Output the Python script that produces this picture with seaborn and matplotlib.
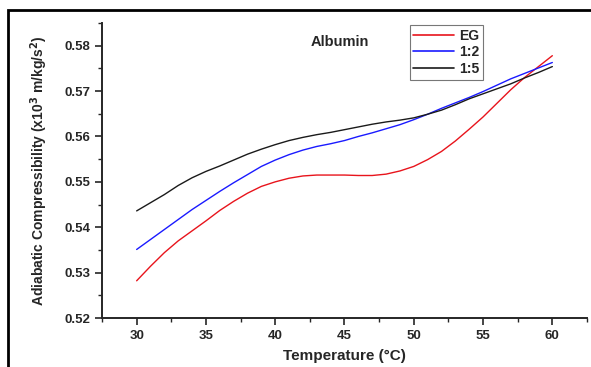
import pandas as pd
import seaborn as sns
import matplotlib.pyplot as plt
from matplotlib.patches import Rectangle
from matplotlib.ticker import MultipleLocator, FormatStrFormatter

# values (one per degree)
temperature = list(range(30, 61))
eg = [0.5282, 0.5314, 0.5344, 0.5370, 0.5392, 0.5414, 0.5437, 0.5457,
      0.5475, 0.5490, 0.5500, 0.5508, 0.5513, 0.5515, 0.5515, 0.5515,
      0.5514, 0.5514, 0.5517, 0.5524, 0.5534, 0.5549, 0.5567, 0.5590,
      0.5616, 0.5643, 0.5673, 0.5703, 0.5730, 0.5754, 0.5778]
ratio_1_2 = [0.5351, 0.5373, 0.5395, 0.5417, 0.5439, 0.5459, 0.5479, 0.5498,
             0.5516, 0.5534, 0.5548, 0.5560, 0.5570, 0.5578, 0.5584, 0.5591,
             0.5600, 0.5608, 0.5617, 0.5626, 0.5637, 0.5649, 0.5662, 0.5674,
             0.5686, 0.5699, 0.5713, 0.5727, 0.5739, 0.5751, 0.5763]
ratio_1_5 = [0.5436, 0.5454, 0.5472, 0.5492, 0.5509, 0.5523, 0.5535, 0.5548,
             0.5561, 0.5572, 0.5582, 0.5591, 0.5598, 0.5604, 0.5609, 0.5615,
             0.5621, 0.5627, 0.5632, 0.5636, 0.5641, 0.5649, 0.5658, 0.5670,
             0.5683, 0.5694, 0.5705, 0.5716, 0.5729, 0.5741, 0.5754]
series = ["EG", "1:2", "1:5"]
colors = ["#e8141c", "#1a1aff", "#1a1a1a"]

df = pd.DataFrame({
    "temperature": temperature * 3,
    "value": eg + ratio_1_2 + ratio_1_5,
    "series": [s for s in series for _ in temperature],
})

sns.set_style("ticks")
plt.rcParams["font.family"] = ["Liberation Sans", "DejaVu Sans"]
plt.rcParams["font.weight"] = "bold"

fig = plt.figure(figsize=(5.91, 3.67), dpi=100)
ax = fig.add_axes([0.1726, 0.1335, 0.8206, 0.8038])

sns.lineplot(data=df, x="temperature", y="value", hue="series",
             palette=dict(zip(series, colors)), linewidth=1.0, ax=ax)

ax.set_xlim(27.5, 62.5)
ax.set_ylim(0.52, 0.585)
ax.xaxis.set_major_locator(MultipleLocator(5))
ax.xaxis.set_minor_locator(MultipleLocator(2.5))
ax.yaxis.set_major_locator(MultipleLocator(0.01))
ax.yaxis.set_minor_locator(MultipleLocator(0.005))
ax.yaxis.set_major_formatter(FormatStrFormatter("%.2f"))
ax.set_xticks([30, 35, 40, 45, 50, 55, 60])
ax.tick_params(which="major", length=5, width=1.2, labelsize=9.5, direction="out")
ax.tick_params(which="minor", length=3, width=1.0, direction="out")
for lab in ax.get_xticklabels() + ax.get_yticklabels():
    lab.set_fontweight("bold")

sns.despine(ax=ax)
for side in ["left", "bottom"]:
    ax.spines[side].set_linewidth(1.4)

ax.set_xlabel("Temperature (°C)", fontsize=11, fontweight="bold", labelpad=5)
ax.set_ylabel("Adiabatic Compressibility (x10$^\\mathbf{3}$ m/kg/s$^\\mathbf{2}$)",
              fontsize=10, fontweight="bold", labelpad=10)

ax.text(0.431, 0.935, "Albumin", transform=ax.transAxes, fontsize=10.5,
        fontweight="bold", va="center")

leg = ax.legend(loc="upper left", bbox_to_anchor=(0.635, 0.993), frameon=True,
                fancybox=False, edgecolor="#555555", fontsize=10,
                handlelength=2.9, handletextpad=0.4, borderpad=0.25,
                labelspacing=0.2, borderaxespad=0.0)
leg.get_frame().set_linewidth(0.8)
for t in leg.get_texts():
    t.set_fontweight("bold")
for line in leg.get_lines():
    line.set_linewidth(1.2)

# outer frame around the figure (clipped on right and bottom)
fig.patches.append(Rectangle((8 / 591, -0.05), 1.1, 0.05 + 1 - 10 / 367,
                             transform=fig.transFigure, fill=False,
                             edgecolor="black", linewidth=2.0))

fig.savefig("out.png", dpi=100)
